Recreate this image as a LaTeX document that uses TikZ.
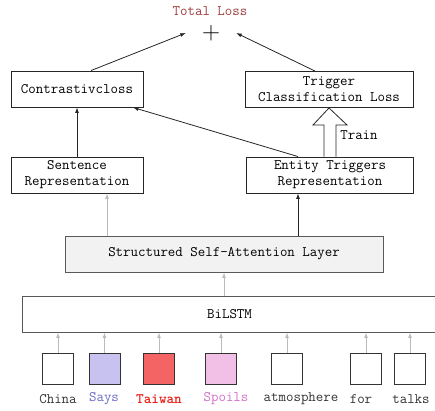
\documentclass[tikz,border=0pt]{standalone}
\usepackage{fontspec}
\newfontfamily\taifont{lmmonolt10-bold.otf}
\usetikzlibrary{arrows.meta,calc}
\definecolor{losscol}{HTML}{9C3C3C}
\definecolor{saysfill}{HTML}{C8C2F0}
\definecolor{saystext}{HTML}{6A6AC8}
\definecolor{taifill}{HTML}{F46464}
\definecolor{taitext}{HTML}{E8201A}
\definecolor{spfill}{HTML}{F2C0E6}
\definecolor{sptext}{HTML}{D46EC8}
\definecolor{safill}{HTML}{F2F2F2}
\definecolor{lightarrow}{HTML}{BBBBBB}
\definecolor{wordtext}{HTML}{333333}
\begin{document}
\begin{tikzpicture}[x=1pt,y=-1pt,
  every node/.style={font=\fontsize{14.5}{18}\selectfont\ttfamily},
  box/.style={draw=black!85,line width=0.9pt,minimum height=36pt,inner sep=0pt,align=center},
  lowbox/.style={draw=black!65,line width=0.9pt,minimum height=36pt,inner sep=0pt,align=center},
  word/.style={draw=black!80,line width=0.9pt,minimum width=31pt,minimum height=31pt,inner sep=0pt},
  lbl/.style={inner sep=0pt,anchor=center},
  darr/.style={draw=black!85,line width=0.8pt,-{Latex[length=5.5pt,width=4pt]}},
  garr/.style={draw=lightarrow,line width=1pt,-{Latex[length=5.5pt,width=4pt]}}]
\useasboundingbox (0,0) rectangle (435,410);

% top
\node[lbl,text=losscol] (total) at (210,11) {Total Loss};
\node[inner sep=0pt,minimum width=50pt,minimum height=20pt,font=\fontsize{25}{25}\selectfont\rmfamily] (plus) at (211,33) {+};

% loss boxes
\node[box,minimum width=132pt] (contr) at (77,89) {Contrastivcloss};
\node[box,minimum width=168pt] (trig) at (329,89.5) {Trigger\\[-2pt]Classification Loss};

% representations
\node[box,minimum width=132pt] (sent) at (77,175) {Sentence\\[-2pt]Representation};
\node[box,minimum width=167pt] (ent) at (330,175) {Entity Triggers\\[-2pt]Representation};

% layers
\node[lowbox,fill=safill,minimum width=318pt] (sa) at (224,254) {Structured Self-Attention Layer};
\node[lowbox,minimum width=415pt] (bil) at (229.5,314) {BiLSTM};

% words
\node[word] (w1) at (58,368.5) {};
\node[word,fill=saysfill] (w2) at (104.5,368.5) {};
\node[word,fill=taifill] (w3) at (159,368.5) {};
\node[word,fill=spfill] (w4) at (221,368.5) {};
\node[word] (w5) at (287,368.5) {};
\node[word] (w6) at (366,368.5) {};
\node[word] (w7) at (410,368.5) {};

\node[lbl,text=wordtext] (l1) at (58,399) {China};
\node[lbl,text=saystext] (l2) at (104,399) {Says};
\node[lbl,text=taitext,font=\fontsize{14.5}{18}\selectfont\taifont] (l3) at (159,399) {Taiwan};
\node[lbl,text=sptext] (l4) at (226,399) {Spoils};
\node[lbl,text=wordtext] (l5) at (301,399) {atmosphere};
\node[lbl,text=wordtext] (l6) at (361,399) {for};
\node[lbl,text=wordtext] (l7) at (411,399) {talks};

% word arrows
\foreach \w in {w1,w2,w3,w4,w5,w6,w7}
  \draw[garr] (\w.north) -- (\w.north |- bil.south);

% bilstm -> sa
\draw[garr] (sa.south |- bil.north) -- (sa.south);

% sa -> representations
\coordinate (sx) at ($(sent.south)+(30,0)$);
\coordinate (ex) at ($(ent.south)+(-32,0)$);
\draw[garr] (sx |- sa.north) -- (sx);
\draw[darr] (ex |- sa.north) -- (ex);

% representations -> losses
\draw[darr] (sent.north) -- (contr.south);
\draw[darr] ($(ent.north)+(-32,0)$) -- ($(contr.south)+(56,0)$);

% hollow train arrow
\coordinate (hb) at (ent.north);
\coordinate (ht) at (trig.south);
\draw[black!85,line width=0.8pt,fill=white]
  ($(hb)+(-6,0)$) -- ($(hb |- 0,125)+(-6,0)$) -- ($(hb |- 0,125)+(-17,0)$)
  -- (ht) -- ($(hb |- 0,125)+(17,0)$) -- ($(hb |- 0,125)+(6,0)$) -- ($(hb)+(6,0)$);
\node[lbl] (train) at (359,135) {Train};

% losses -> total
\draw[darr] ($(contr.north)+(14,0)$) -- (plus.west);
\draw[darr] ($(trig.north)+(-14,0)$) -- (plus.east);
\end{tikzpicture}
\end{document}
